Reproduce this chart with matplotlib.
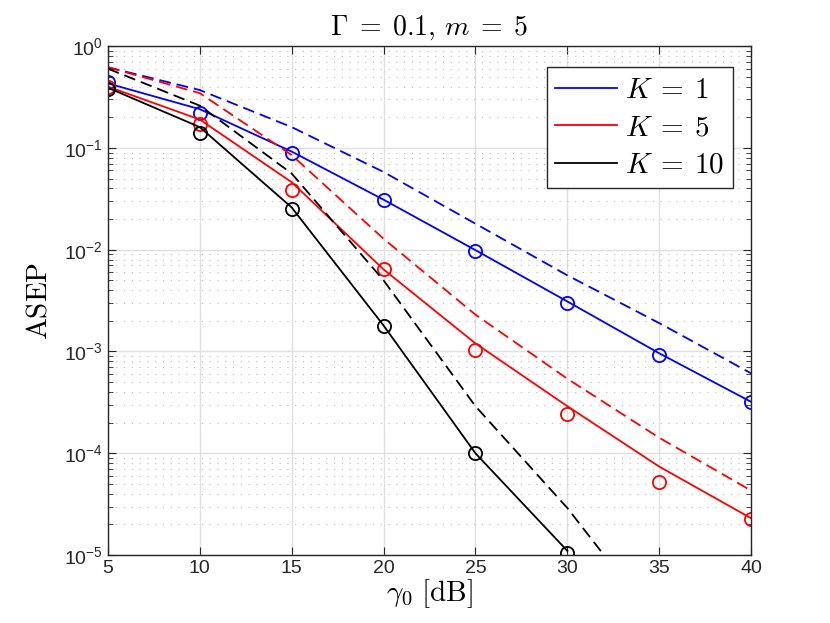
import numpy as np
import matplotlib
matplotlib.use('Agg')
import matplotlib.pyplot as plt
from matplotlib.ticker import LogLocator, NullFormatter

plt.rcParams['font.family'] = ['Liberation Sans', 'DejaVu Sans']

# SNR grid
snr = [5, 10, 15, 20, 25, 30, 35, 40]

# analytical curves (solid)
k1_solid = [0.43, 0.24, 0.092, 0.031, 0.0099, 0.0031, 0.00096, 0.00032]
k5_solid = [0.40, 0.19, 0.046, 0.0064, 0.0012, 0.00029, 7.4e-5, 2.3e-5]
k10_solid = [0.39, 0.16, 0.026, 0.0018, 1.0e-4, 1.1e-5]

# approximation curves (dashed)
k1_dash = [0.62, 0.37, 0.16, 0.058, 0.018, 0.0056, 0.0019, 0.00061]
k5_dash = [0.62, 0.345, 0.085, 0.0128, 0.0023, 0.00054, 0.000142, 4.3e-5]
k10_dash = [0.60, 0.26, 0.056, 0.0050, 0.00029, 2.9e-5, 2.0e-6]

# simulation points (circles)
k1_sim = [0.44, 0.22, 0.090, 0.031, 0.0098, 0.0030, 0.00093, 0.00032]
k5_sim = [0.40, 0.17, 0.039, 0.0064, 0.00104, 0.000245, 5.2e-5, 2.25e-5]
k10_sim = [0.38, 0.14, 0.025, 0.0018, 1.0e-4, 1.05e-5]

labels = [r'$K\:=\:1$', r'$K\:=\:5$', r'$K\:=\:10$']
colors = ['#0000ff', '#ff0000', '#000000']

fig = plt.figure(figsize=(8.3, 6.23), dpi=100)
ax = fig.add_axes([0.130, 0.109, 0.775, 0.817])

lw = 1.3
dash = (0, (6.5, 3.3))
solids = [k1_solid, k5_solid, k10_solid]
dashes = [k1_dash, k5_dash, k10_dash]
sims = [k1_sim, k5_sim, k10_sim]

handles = []
for i in range(3):
    n = len(solids[i])
    h, = ax.plot(snr[:n], solids[i], color=colors[i], lw=lw, label=labels[i])
    handles.append(h)
    m = len(dashes[i])
    ax.plot(snr[:m], dashes[i], color=colors[i], lw=lw, linestyle=dash)
    s = len(sims[i])
    ax.plot(snr[:s], sims[i], linestyle='none', marker='o', ms=9.5,
            mfc='none', mec=colors[i], mew=1.3)

ax.set_yscale('log')
ax.set_xlim(5, 40)
ax.set_ylim(1e-5, 1)
ax.set_xticks(snr)
ax.yaxis.set_major_locator(LogLocator(base=10, numticks=10))
ax.yaxis.set_minor_locator(LogLocator(base=10, subs=np.arange(2, 10), numticks=20))
ax.yaxis.set_minor_formatter(NullFormatter())

ax.grid(True, which='major', color='#e0e0e0', lw=1.0, ls='-')
ax.grid(True, which='minor', axis='y', color='#bdbdbd', lw=0.8, ls=(0, (1, 6)))
ax.set_axisbelow(True)

for sp in ax.spines.values():
    sp.set_color('#262626')
    sp.set_linewidth(1.0)
ax.tick_params(which='both', direction='in', top=True, right=True,
               colors='#262626', labelsize=14)
ax.tick_params(which='major', length=6)
ax.tick_params(which='minor', length=3.5)

ax.set_title(r'$\Gamma\;=\;0.1,\,m\;=\;5$', fontsize=20, pad=8,
             math_fontfamily='cm')
ax.set_xlabel(r'$\gamma_0\ [\mathrm{dB}]$', fontsize=21, labelpad=0,
              math_fontfamily='cm')
ax.set_ylabel(r'$\mathrm{ASEP}$', fontsize=21, labelpad=8,
              math_fontfamily='cm')

leg = ax.legend(handles=handles, loc='upper right', fontsize=21,
                bbox_to_anchor=(0.972, 0.959), borderaxespad=0,
                fancybox=False, framealpha=1, edgecolor='#262626',
                handlelength=2.1, handletextpad=0.3, borderpad=0.3,
                labelspacing=0.33)
leg.get_frame().set_linewidth(1.0)
for t in leg.get_texts():
    t.set_math_fontfamily('cm')

fig.savefig('out.png', dpi=100)
